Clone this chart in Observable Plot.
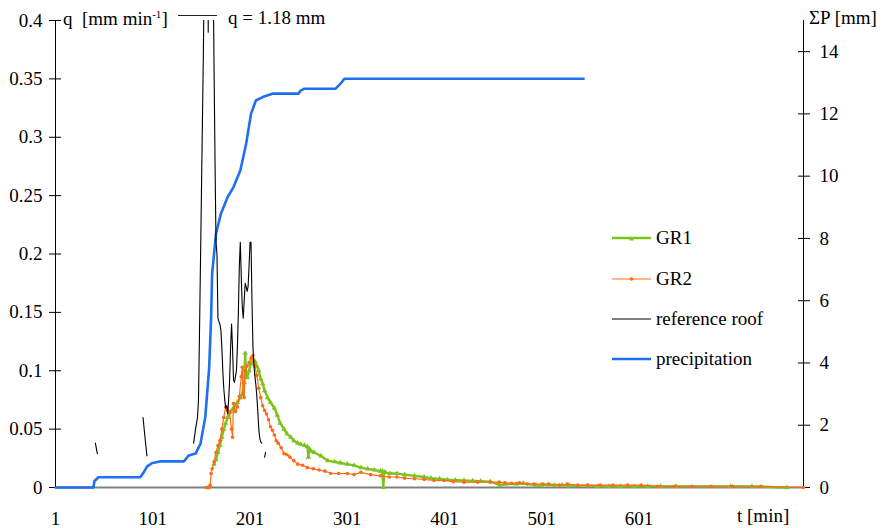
<!DOCTYPE html>
<html>
<head>
<meta charset="utf-8">
<script src="https://cdn.jsdelivr.net/npm/d3@7"></script>
<script src="https://cdn.jsdelivr.net/npm/@observablehq/plot@0.6"></script>
<style>
  body { margin: 0; background: #fff; }
  #wrap { position: relative; width: 887px; height: 528px; font-family: "Liberation Serif", Tinos, "Times New Roman", Times, "Nimbus Roman", "Noto Serif", "DejaVu Serif", serif; color: #000; }
  .ov { position: absolute; font-size: 19px; line-height: 1; white-space: nowrap; }
  .ov sup { font-size: 11px; vertical-align: 7px; line-height: 0; }
  .legrow { position: absolute; left: 612px; height: 20px; display: flex; align-items: center; font-size: 19px; white-space: nowrap; }
  .legrow svg { margin-right: 5px; }
</style>
</head>
<body>
<div id="wrap"></div>
<script>
// ---------- axis / tick labels ----------
const xTickLabels = [1, 101, 201, 301, 401, 501, 601];
const leftTicks = [0, 0.05, 0.1, 0.15, 0.2, 0.25, 0.3, 0.35, 0.4];
const rightTicks = [0, 2, 4, 6, 8, 10, 12, 14];
const xDomain = [1, 770];
const qMax = 0.4;   // left axis max  [mm/min]
const pMax = 15;    // right axis max [mm]
const FONT = '"Liberation Serif", Tinos, "Times New Roman", Times, "Nimbus Roman", "Noto Serif", "DejaVu Serif", serif';

// ---------- series names / colours ----------
const seriesNames = ["GR1", "GR2", "reference roof", "precipitation"];
const seriesColors = ["#7dc31e", "#ff6a14", "#000000", "#1f6ff2"];

// ---------- precipitation (cumulative, mm, right axis) ----------
const precipTime  = [1, 40, 41, 45, 88, 92, 95, 100, 109, 133, 138, 145, 150, 155, 159, 161, 162, 166, 171, 178, 184, 191, 197, 202, 207, 214, 224, 251, 253, 257, 289, 294, 298, 544];
const precipValue = [0, 0, 0.2, 0.33, 0.33, 0.5, 0.67, 0.78, 0.84, 0.84, 1.03, 1.09, 1.40, 2.26, 3.86, 5.47, 6.86, 8.15, 8.79, 9.33, 9.65, 10.18, 11.04, 12.0, 12.43, 12.54, 12.65, 12.65, 12.75, 12.81, 12.81, 12.97, 13.13, 13.13];

// ---------- reference roof runoff (mm/min, null = gap) ----------
const roofTime = [42, 44, 45, 91, 93, 95, 96,
  143, 145, 147, 148, 149, 150, 151, 152, 153, 154, 155, 156, 157, 158, 159, 160, 161, 162, 163, 164, 165, 166, 167, 168, 169, 170, 171, 172, 173, 174, 175, 176, 177, 178,
  179, 180, 181, 182, 183, 184, 185, 186, 187, 188, 189, 190, 191, 192, 193, 194, 195, 196, 197, 198, 199, 200, 201, 202, 203, 204, 205, 206, 207, 208, 209, 210, 211, 212, 213, 214, 216, 217];
const roofQ = [0.038, 0.029, null, 0.060, 0.043, 0.027, null,
  0.038, 0.050, 0.060, 0.075, 0.13, 0.19, 0.25, 0.31, 0.37, 0.45, 0.9, 1.18, 0.7, 0.39, 0.8, 1.0, 0.8, 0.6, 0.45, 0.36, 0.28, 0.21, 0.20, 0.145, 0.142, 0.14, 0.135, 0.12, 0.10, 0.085, 0.075, 0.068, 0.07, 0.063,
  0.075, 0.092, 0.12, 0.14, 0.12, 0.092, 0.09, 0.095, 0.10, 0.12, 0.15, 0.19, 0.21, 0.18, 0.155, 0.145, 0.16, 0.175, 0.172, 0.168, 0.172, 0.19, 0.21, 0.21, 0.16, 0.12, 0.105, 0.095, 0.088, 0.078, 0.065, 0.05, 0.042, 0.039, 0.038, null, 0.026, 0.030];

// ---------- GR1 runoff (mm/min) ----------
const gr1Time = [164, 166, 168, 170, 172, 174, 176, 178, 181, 184, 188, 191, 193, 195, 196, 197, 198, 200, 202, 204, 206, 208, 210, 212, 214, 216, 219, 222, 226, 229, 232, 236, 239, 243, 246, 250, 253, 257, 260, 261, 262, 264, 267, 274, 281, 288, 294, 301, 308, 315, 322, 329, 335, 337, 338, 339, 340, 345, 352, 360, 370, 380, 387, 396, 404, 412, 421, 430, 438, 448, 458, 464, 475, 482, 495, 500, 508, 514, 522, 529, 548, 558, 570, 582, 596, 610, 623, 639, 695, 717, 753];
const gr1Q = [0.020, 0.024, 0.030, 0.036, 0.043, 0.050, 0.055, 0.060, 0.065, 0.068, 0.073, 0.077, 0.080, 0.090, 0.115, 0.096, 0.094, 0.100, 0.106, 0.110, 0.108, 0.104, 0.100, 0.093, 0.089, 0.083, 0.077, 0.073, 0.068, 0.062, 0.055, 0.050, 0.046, 0.043, 0.040, 0.038, 0.037, 0.036, 0.035, 0.026, 0.033, 0.031, 0.030, 0.027, 0.023, 0.022, 0.021, 0.020, 0.019, 0.017, 0.016, 0.015, 0.014, 0.014, 0.000, 0.013, 0.013, 0.012, 0.012, 0.011, 0.010, 0.009, 0.008, 0.0073, 0.0066, 0.0063, 0.006, 0.0057, 0.0054, 0.005, 0.002, 0.003, 0.003, 0.0035, 0.002, 0.002, 0.0025, 0.002, 0.002, 0.0016, 0.0016, 0.001, 0.001, 0.001, 0.001, 0.001, 0.001, 0.001, 0.001, 0.001, 0];

// ---------- GR2 runoff (mm/min) ----------
const gr2Time = [156, 157, 158, 159, 160, 161, 162, 164, 166, 168, 170, 172, 174, 176, 178, 180, 182, 183, 184, 186, 188, 190, 192, 193, 194, 195, 196, 198, 200, 202, 204, 206, 208, 210, 212, 214, 216, 218, 220, 222, 224, 226, 228, 230, 233, 236, 239, 242, 246, 250, 255, 260, 266, 272, 278, 284, 292, 301, 308, 315, 325, 335, 344, 352, 360, 370, 380, 390, 400, 410, 421, 435, 448, 457, 463, 470, 478, 486, 493, 502, 508, 519, 527, 538, 548, 561, 574, 589, 603, 620, 637, 655, 675, 697, 726, 770];
const gr2Q = [0, 0, 0, 0, 0.002, 0.012, 0.016, 0.022, 0.030, 0.036, 0.040, 0.050, 0.060, 0.069, 0.066, 0.064, 0.050, 0.043, 0.072, 0.065, 0.069, 0.078, 0.095, 0.103, 0.080, 0.077, 0.100, 0.104, 0.107, 0.111, 0.113, 0.104, 0.096, 0.085, 0.077, 0.070, 0.066, 0.063, 0.058, 0.052, 0.049, 0.045, 0.040, 0.038, 0.034, 0.029, 0.028, 0.026, 0.023, 0.020, 0.019, 0.017, 0.016, 0.015, 0.014, 0.012, 0.012, 0.012, 0.011, 0.013, 0.011, 0.010, 0.009, 0.009, 0.008, 0.0075, 0.007, 0.006, 0.006, 0.005, 0.0046, 0.0046, 0.0046, 0.0046, 0.004, 0.0035, 0.004, 0.003, 0.003, 0.003, 0.003, 0.002, 0.003, 0.002, 0.002, 0.002, 0.002, 0.002, 0.002, 0.001, 0.001, 0.001, 0.001, 0.001, 0.001, 0];

// ---------- build tables ----------
const toQ = p => p * qMax / pMax;
const precip = precipTime.map((t, i) => ({t, v: toQ(precipValue[i])}));
const roof = roofTime.map((t, i) => ({t, v: roofQ[i]}));
const gr1 = gr1Time.map((t, i) => ({t, v: gr1Q[i]}));
const gr2 = gr2Time.map((t, i) => ({t, v: gr2Q[i]}));
const [cGR1, cGR2, cRoof, cPrecip] = seriesColors;

const chart = Plot.plot({
  width: 887,
  height: 528,
  marginLeft: 55,
  marginRight: 84,
  marginTop: 20,
  marginBottom: 41,
  x: {domain: xDomain, label: null},
  y: {domain: [0, qMax], label: null},
  style: {fontFamily: FONT, fontSize: "19px", background: "white", color: "black"},
  marks: [
    Plot.ruleY([0], {stroke: "#808080", strokeWidth: 2}),
    Plot.ruleX([xDomain[0]], {y1: 0, y2: qMax, stroke: "black"}),
    Plot.ruleX([xDomain[1]], {y1: 0, y2: qMax, stroke: "black"}),
    Plot.axisY(leftTicks, {anchor: "left", tickSize: 12, dx: 6, fill: "none", label: null}),
    Plot.axisY(leftTicks, {anchor: "left", tickSize: 0, tickPadding: 13, tickFormat: d => String(d), label: null}),
    Plot.axisY(rightTicks.map(toQ), {anchor: "right", tickSize: 12, dx: -6, fill: "none", label: null}),
    Plot.axisY(rightTicks.map(toQ), {anchor: "right", tickSize: 0, tickPadding: 16, tickFormat: v => String(Math.round(v * pMax / qMax)), label: null}),
    Plot.axisX(xTickLabels, {anchor: "bottom", tickSize: 0, tickPadding: 24, tickFormat: d => String(d), label: null}),
    Plot.line(precip, {x: "t", y: "v", stroke: cPrecip, strokeWidth: 2.6}),
    Plot.line(gr1, {x: "t", y: "v", stroke: cGR1, strokeWidth: 2.4}),
    Plot.dot(gr1, {x: "t", y: "v", symbol: "triangle", r: 2, fill: cGR1}),
    Plot.line(gr2, {x: "t", y: "v", stroke: cGR2, strokeWidth: 1.2}),
    Plot.dot(gr2, {x: "t", y: "v", symbol: "circle", r: 1.8, fill: cGR2}),
    Plot.line(roof, {x: "t", y: "v", stroke: cRoof, strokeWidth: 1.1, clip: true})
  ]
});

const wrap = document.getElementById("wrap");
wrap.appendChild(chart);

function addOverlay(html, left, top) {
  const d = document.createElement("div");
  d.className = "ov";
  d.style.left = left + "px";
  d.style.top = top + "px";
  d.innerHTML = html;
  wrap.appendChild(d);
  return d;
}
addOverlay("q&nbsp; [mm min<sup>-1</sup>]", 63, 9);
addOverlay("ΣP [mm]", 809, 8);
addOverlay("t [min]", 737, 506);
addOverlay("q = 1.18 mm", 228, 8);
// peak indicator line
const peakLine = document.createElement("div");
peakLine.style.cssText = "position:absolute;left:178px;top:15px;width:39px;height:0;border-top:1.5px solid #222;";
wrap.appendChild(peakLine);

// legend
const legendY = [238, 279, 319, 359];
seriesNames.forEach((name, i) => {
  const row = document.createElement("div");
  row.className = "legrow";
  row.style.top = (legendY[i] - 10) + "px";
  const w = (i === 1 || i === 2) ? 1.2 : 2.4;
  let marker = "";
  if (i === 0) marker = `<path d="M19.5,8.5 L22,12.5 L17,12.5 Z" fill="${seriesColors[i]}"/>`;
  if (i === 1) marker = `<circle cx="19.5" cy="10" r="1.8" fill="${seriesColors[i]}"/>`;
  row.innerHTML = `<svg width="39" height="20"><line x1="0" x2="39" y1="10" y2="10" stroke="${seriesColors[i]}" stroke-width="${i===3?2.6:w}"/>${marker}</svg><span>${name}</span>`;
  wrap.appendChild(row);
});
</script>
</body>
</html>
